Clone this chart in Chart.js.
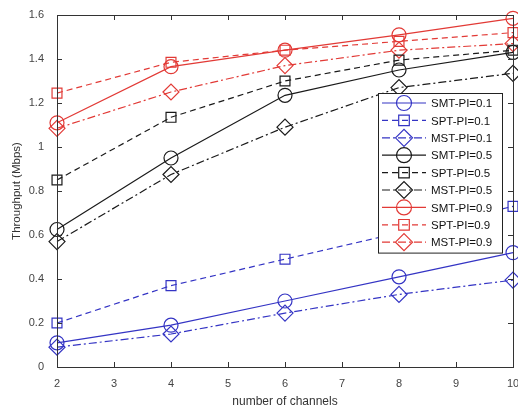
<!DOCTYPE html>
<html>
<head>
<meta charset="utf-8">
<script src="https://cdn.jsdelivr.net/npm/chart.js@4"></script>
<style>
  html, body { margin: 0; padding: 0; background: #fff; }
  #wrap { width: 518px; height: 412px; }
</style>
</head>
<body>
<div id="wrap"><canvas id="chart" width="518" height="412"></canvas></div>
<script>
const channels = [2, 4, 6, 8, 10];
const xTicks = [2, 3, 4, 5, 6, 7, 8, 9, 10];
const yTicks = [0, 0.2, 0.4, 0.6, 0.8, 1, 1.2, 1.4, 1.6];

const smt01 = [0.11, 0.19, 0.30, 0.41, 0.52];
const spt01 = [0.20, 0.37, 0.49, 0.61, 0.73];
const mst01 = [0.09, 0.15, 0.245, 0.33, 0.395];
const smt05 = [0.625, 0.95, 1.235, 1.35, 1.43];
const spt05 = [0.85, 1.135, 1.30, 1.395, 1.44];
const mst05 = [0.57, 0.875, 1.09, 1.27, 1.335];
const smt09 = [1.11, 1.365, 1.44, 1.51, 1.585];
const spt09 = [1.245, 1.385, 1.44, 1.48, 1.52];
const mst09 = [1.085, 1.25, 1.37, 1.44, 1.47];

const seriesNames = ['SMT-PI=0.1', 'SPT-PI=0.1', 'MST-PI=0.1', 'SMT-PI=0.5', 'SPT-PI=0.5', 'MST-PI=0.5', 'SMT-PI=0.9', 'SPT-PI=0.9', 'MST-PI=0.9'];
const seriesValues = [smt01, spt01, mst01, smt05, spt05, mst05, smt09, spt09, mst09];

const BLUE = '#3434c4';
const BLACK = '#1a1a1a';
const RED = '#e23a36';
const colors = [BLUE, BLUE, BLUE, BLACK, BLACK, BLACK, RED, RED, RED];
// solid / dashed / dash-dot, circle / square / diamond
const dashes = [[], [6, 4], [8, 3, 2, 3]];
const markers = ['circle', 'rect', 'rectRot'];
const radii = [7, 7, 8];

const datasets = seriesNames.map((name, i) => ({
  label: name,
  data: channels.map((c, j) => ({ x: c, y: seriesValues[i][j] })),
  borderColor: colors[i],
  borderWidth: 1.2,
  borderDash: dashes[i % 3],
  pointStyle: markers[i % 3],
  pointRadius: radii[i % 3],
  pointBorderWidth: 1.2,
  pointBackgroundColor: 'rgba(0,0,0,0)',
  pointBorderColor: colors[i],
  fill: false,
  clip: false,
  tension: 0
}));

// box + inward ticks like the original figure
const boxPlugin = {
  id: 'boxTicks',
  afterDraw(chart) {
    const { ctx, chartArea: a, scales } = chart;
    ctx.save();
    ctx.strokeStyle = '#333';
    ctx.lineWidth = 1;
    ctx.strokeRect(a.left + 0.5, a.top + 0.5, a.right - a.left, a.bottom - a.top);
    ctx.beginPath();
    xTicks.forEach(v => {
      const px = Math.round(scales.x.getPixelForValue(v)) + 0.5;
      ctx.moveTo(px, a.bottom); ctx.lineTo(px, a.bottom - 5);
      ctx.moveTo(px, a.top); ctx.lineTo(px, a.top + 5);
    });
    yTicks.forEach(v => {
      const py = Math.round(scales.y.getPixelForValue(v)) + 0.5;
      ctx.moveTo(a.left, py); ctx.lineTo(a.left + 5, py);
      ctx.moveTo(a.right, py); ctx.lineTo(a.right - 5, py);
    });
    ctx.stroke();
    ctx.restore();
  }
};

// legend drawn inside the plot, like the matlab one
const legendPlugin = {
  id: 'insideLegend',
  afterDraw(chart) {
    const { ctx } = chart;
    const x0 = 378, y0 = 93, w = 124, rowH = 17.4;
    ctx.save();
    ctx.fillStyle = '#fff';
    ctx.fillRect(x0, y0, w, rowH * datasets.length + 3);
    ctx.strokeStyle = '#222';
    ctx.lineWidth = 1;
    ctx.strokeRect(x0 + 0.5, y0 + 0.5, w, rowH * datasets.length + 3);
    ctx.font = '11.5px "Liberation Sans", Arial, sans-serif';
    ctx.textBaseline = 'middle';
    chart.data.datasets.forEach((ds, i) => {
      const cy = y0 + 10 + i * rowH;
      ctx.strokeStyle = ds.borderColor;
      ctx.lineWidth = ds.borderWidth;
      ctx.setLineDash(ds.borderDash);
      ctx.beginPath();
      ctx.moveTo(x0 + 4, cy); ctx.lineTo(x0 + 48, cy);
      ctx.stroke();
      ctx.setLineDash([]);
      ctx.fillStyle = 'rgba(0,0,0,0)';
      Chart.helpers.drawPoint(ctx, {
        pointStyle: ds.pointStyle,
        radius: ds.pointRadius + 0.5,
        borderWidth: ds.pointBorderWidth,
        rotation: 0
      }, x0 + 26, cy);
      ctx.fillStyle = '#111';
      ctx.fillText(ds.label, x0 + 53, cy + 1);
    });
    ctx.restore();
  }
};

const ctx = document.getElementById('chart').getContext('2d');
new Chart(ctx, {
  type: 'line',
  data: { datasets },
  options: {
    responsive: false,
    animation: false,
    layout: { autoPadding: false, padding: { top: 15, right: 5, left: 0, bottom: 0 } },
    plugins: { legend: { display: false }, tooltip: { enabled: false } },
    scales: {
      x: {
        type: 'linear',
        min: 2, max: 10,
        afterBuildTicks: s => { s.ticks = xTicks.map(v => ({ value: v })); },
        afterFit: s => { s.height = 45; s.paddingLeft = 0; s.paddingRight = 0; },
        grid: { display: false },
        border: { display: false },
        ticks: { color: '#444', font: { family: '"Liberation Sans", Arial', size: 11 }, padding: 2, maxRotation: 0 },
        title: { display: true, text: 'number of channels', color: '#333', font: { family: '"Liberation Sans", Arial', size: 12 }, padding: { top: 0, bottom: 3 } }
      },
      y: {
        min: 0, max: 1.6,
        afterBuildTicks: s => { s.ticks = yTicks.map(v => ({ value: v })); },
        afterFit: s => { s.width = 57; s.paddingTop = 0; s.paddingBottom = 0; },
        grid: { display: false },
        border: { display: false },
        ticks: { color: '#444', font: { family: '"Liberation Sans", Arial', size: 11 }, padding: 5, callback: v => String(+v.toFixed(1)) },
        title: { display: true, text: 'Throughput (Mbps)', color: '#333', font: { family: '"Liberation Sans", Arial', size: 11.5 }, padding: { top: 10, bottom: 0 } }
      }
    }
  },
  plugins: [boxPlugin, legendPlugin]
});
</script>
</body>
</html>
